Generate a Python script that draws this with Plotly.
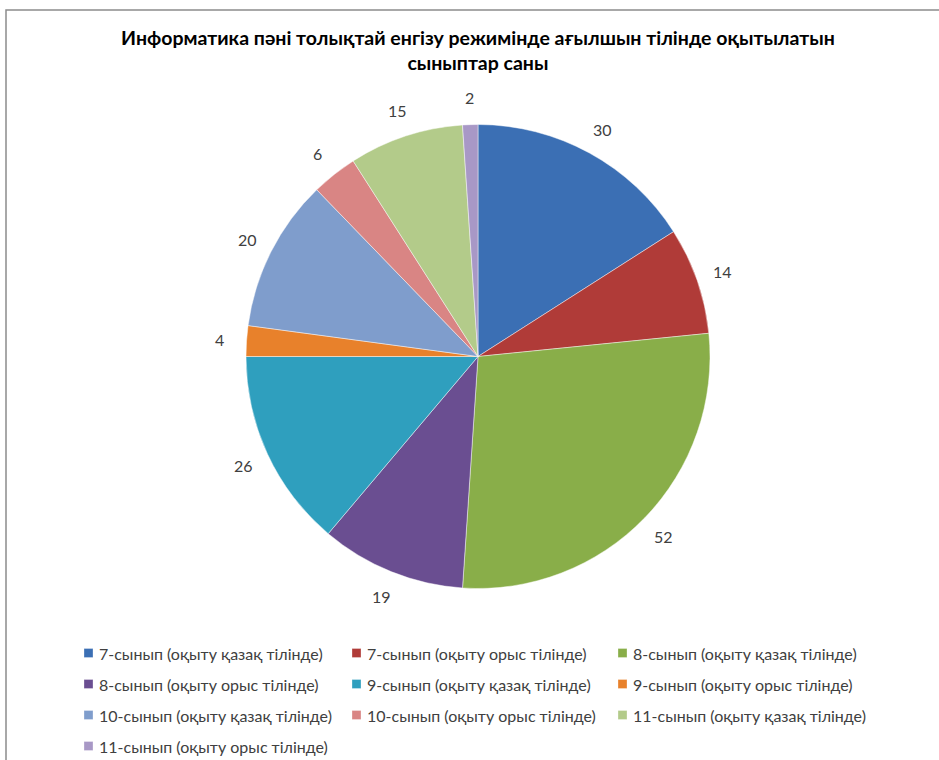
import math
import plotly.graph_objects as go

# Number of classes taught in English, by grade and language of instruction
categories = [
    "7-сынып (оқыту қазақ тілінде)",
    "7-сынып (оқыту орыс тілінде)",
    "8-сынып (оқыту қазақ тілінде)",
    "8-сынып (оқыту орыс тілінде)",
    "9-сынып (оқыту қазақ тілінде)",
    "9-сынып (оқыту орыс тілінде)",
    "10-сынып (оқыту қазақ тілінде)",
    "10-сынып (оқыту орыс тілінде)",
    "11-сынып (оқыту қазақ тілінде)",
    "11-сынып (оқыту орыс тілінде)",
]
counts = [30, 14, 52, 19, 26, 4, 20, 6, 15, 2]

slice_colors = [
    "#3B6FB4", "#B03B38", "#89AE49", "#6A4E91", "#2F9FBE",
    "#E8812B", "#7F9DCC", "#D98584", "#B3CB8A", "#A898C6",
]

title_text = ("Информатика пәні толықтай енгізу режимінде ағылшын тілінде оқытылатын"
              "<br>сыныптар саны")

W, H = 939, 760
FONT = "Lato"
TEXT_COLOR = "#404040"

# Pie geometry (pixels)
cx, cy, R = 478, 356.5, 232
label_r = 1.115 * R

# Legend grid (pixels): three columns, rows top to bottom
legend_cols = [84, 352, 618]
legend_row0, legend_row_step = 653, 31
legend_box = 9


def px_x(x):
    return x / W


def px_y(y):
    return 1 - y / H


fig = go.Figure()
fig.add_trace(go.Pie(
    labels=categories,
    values=counts,
    sort=False,
    direction="clockwise",
    rotation=0,
    textinfo="none",
    hoverinfo="label+value",
    showlegend=False,
    marker=dict(colors=slice_colors,
                line=dict(color="rgba(255,255,255,0.45)", width=1)),
    domain=dict(x=[px_x(cx - R), px_x(cx + R)],
                y=[px_y(cy + R), px_y(cy - R)]),
))

annotations = []
shapes = []

# Value labels placed just outside each slice, at the slice's mid-angle
total = sum(counts)
acc = 0
for v in counts:
    mid = (acc + v / 2) / total * 2 * math.pi
    acc += v
    lx = cx + label_r * math.sin(mid)
    ly = cy - label_r * math.cos(mid)
    annotations.append(dict(
        x=px_x(lx), y=px_y(ly), xref="paper", yref="paper",
        text=str(v), showarrow=False,
        xanchor="center", yanchor="middle",
        font=dict(family=FONT, size=16, color=TEXT_COLOR),
    ))

# Title
annotations.append(dict(
    x=px_x(478), y=px_y(50.5), xref="paper", yref="paper",
    text=f"<b>{title_text}</b>", showarrow=False,
    xanchor="center", yanchor="middle", align="center",
    font=dict(family=FONT, size=19.5, color="#000000"),
))

# Legend: coloured square + category name, laid out in a 3-column grid
for i, (name, col) in enumerate(zip(categories, slice_colors)):
    r, c = divmod(i, 3)
    x0 = legend_cols[c]
    yc = legend_row0 + r * legend_row_step
    shapes.append(dict(
        type="rect", xref="paper", yref="paper",
        x0=px_x(x0), x1=px_x(x0 + legend_box),
        y0=px_y(yc + legend_box / 2), y1=px_y(yc - legend_box / 2),
        fillcolor=col, line=dict(color="rgba(255,255,255,0.6)", width=0.5),
    ))
    annotations.append(dict(
        x=px_x(x0 + legend_box + 4), y=px_y(yc), xref="paper", yref="paper",
        text=name, showarrow=False,
        xanchor="left", yanchor="middle",
        font=dict(family=FONT, size=16, color=TEXT_COLOR),
    ))

# Chart frame (left and top edges)
shapes.append(dict(
    type="path", xref="paper", yref="paper",
    path=f"M {px_x(6)},{px_y(H)} L {px_x(6)},{px_y(10)} L 1,{px_y(10)}",
    line=dict(color="#8C8C8C", width=1.5),
))

fig.update_layout(
    width=W, height=H,
    margin=dict(l=0, r=0, t=0, b=0),
    paper_bgcolor="white",
    plot_bgcolor="white",
    showlegend=False,
    annotations=annotations,
    shapes=shapes,
)

fig.write_html("out.html")
